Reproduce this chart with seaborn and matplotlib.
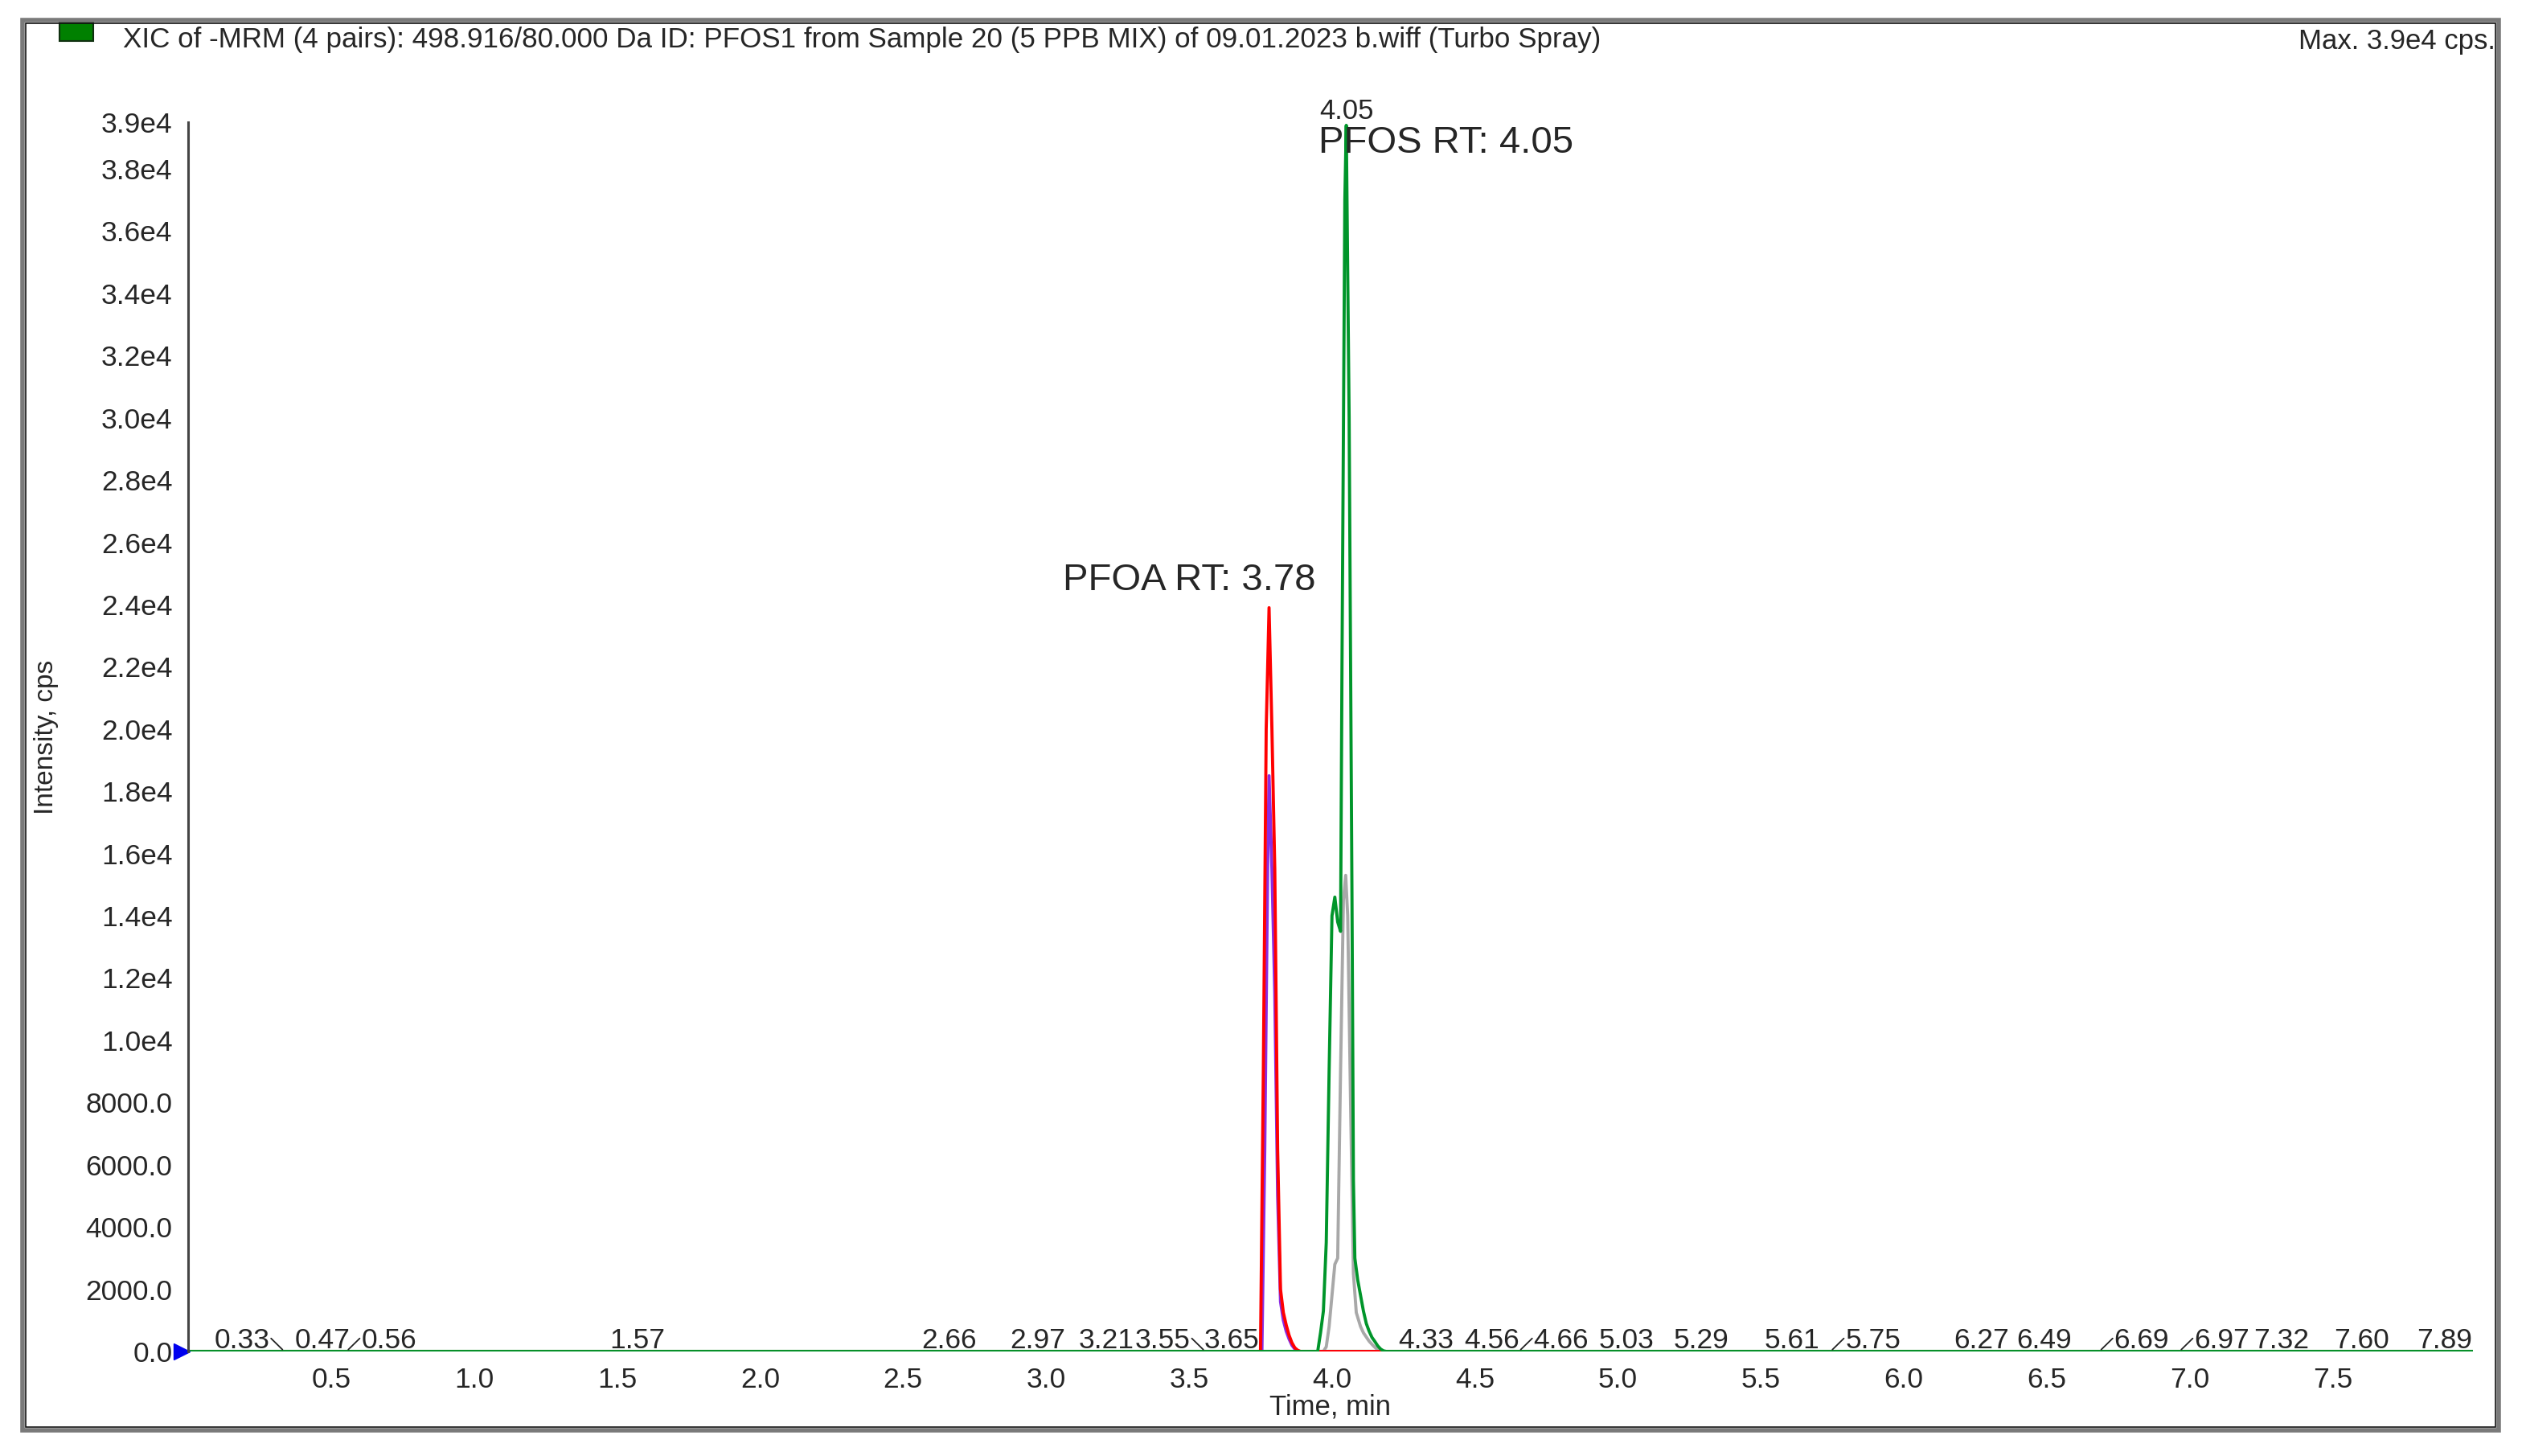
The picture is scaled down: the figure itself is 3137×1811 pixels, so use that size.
import numpy as np
import pandas as pd
import matplotlib
matplotlib.use('Agg')
import matplotlib.pyplot as plt
import matplotlib.transforms as mtransforms
from matplotlib.patches import Rectangle
from matplotlib.ticker import FixedLocator, MultipleLocator
import seaborn as sns

# XIC traces (time in min, intensity in cps)
pfoa_t = [0.0, 3.74, 3.75, 3.76, 3.77, 3.78, 3.79, 3.80, 3.81, 3.82, 3.83, 3.84, 3.85, 3.86, 3.87, 3.88, 3.89, 7.99]
pfoa_i = [0, 0, 0, 9000, 20000, 23900, 20000, 15500, 6500, 2000, 1250, 850, 520, 280, 120, 40, 0, 0]

pfoa2_t = [0.0, 3.755, 3.765, 3.775, 3.78, 3.79, 3.80, 3.81, 3.82, 3.83, 3.84, 3.85, 3.86, 3.87, 3.88, 7.99]
pfoa2_i = [0, 0, 6500, 15500, 18500, 15500, 11500, 5000, 1600, 1000, 650, 400, 200, 80, 0, 0]

pfos_t = [0.0, 3.95, 3.96, 3.97, 3.98, 3.99, 4.00, 4.01, 4.02, 4.03, 4.035, 4.045, 4.05, 4.06, 4.07,
          4.075, 4.08, 4.09, 4.10, 4.11, 4.12, 4.13, 4.14, 4.15, 4.16, 4.17, 4.18, 4.19, 7.99]
pfos_i = [0, 0, 600, 1300, 3500, 9000, 14000, 14600, 13800, 13500, 22000, 37000, 39400, 30000, 14500,
          5500, 3000, 2300, 1800, 1300, 900, 650, 450, 320, 180, 80, 20, 0, 0]

pfos2_t = [0.0, 3.97, 3.98, 3.99, 4.00, 4.01, 4.02, 4.03, 4.04, 4.048, 4.055, 4.065, 4.075, 4.085,
           4.10, 4.11, 4.13, 4.145, 4.16, 4.17, 7.99]
pfos2_i = [0, 0, 150, 800, 1800, 2800, 3000, 9000, 14500, 15300, 14000, 8000, 2500, 1250,
           800, 600, 330, 180, 50, 0, 0]

# labelled peak apex times along the baseline
peak_rts = [0.33, 0.47, 0.56, 1.57, 2.66, 2.97, 3.21, 3.55, 3.65, 4.33, 4.56, 4.66, 5.03,
            5.29, 5.61, 5.75, 6.27, 6.49, 6.69, 6.97, 7.32, 7.60, 7.89]

title = ("XIC of -MRM (4 pairs): 498.916/80.000 Da ID: PFOS1 from Sample 20 (5 PPB MIX) "
         "of 09.01.2023 b.wiff (Turbo Spray)")

frames = []
for name, t, i in [('pfos2', pfos2_t, pfos2_i), ('pfoa2', pfoa2_t, pfoa2_i),
                   ('pfoa', pfoa_t, pfoa_i), ('pfos', pfos_t, pfos_i)]:
    frames.append(pd.DataFrame({'time': t, 'intensity': i, 'trace': name}))
df = pd.concat(frames, ignore_index=True)

palette = {'pfos2': '#a8a8a8', 'pfoa2': '#8a2be2', 'pfoa': '#ff0000', 'pfos': '#00952a'}

sns.set_style('white')
plt.rcParams['font.family'] = ['Liberation Sans', 'DejaVu Sans']

W, H = 3137, 1811
fig = plt.figure(figsize=(W / 100, H / 100), dpi=100)
ax = fig.add_axes([234 / W, 1 - 1681 / H, (3076 - 234) / W, (1681 - 152) / H])

# x axis line in dark green like the baseline
ax.axhline(0, color='#007a00', lw=3, zorder=1)

sns.lineplot(data=df, x='time', y='intensity', hue='trace', units='trace', estimator=None,
             sort=False, palette=palette, hue_order=['pfos2', 'pfoa2', 'pfoa', 'pfos'],
             linewidth=2.8, legend=False, ax=ax)

y_top = 39500
ax.set_xlim(0, 7.99)
ax.set_ylim(0, y_top)

# axes styling
for s in ['top', 'right', 'bottom']:
    ax.spines[s].set_visible(False)
ax.spines['left'].set_color('#444444')
ax.spines['left'].set_linewidth(2.2)

xt = np.arange(0.5, 7.6, 0.5)
ax.set_xticks(xt)
ax.set_xticklabels([f'{v:.1f}' for v in xt])
ax.xaxis.set_minor_locator(MultipleLocator(0.1))

yt = list(np.arange(0, 38001, 2000)) + [y_top]
ylabels = [f'{v:.1f}' if v < 10000 else f'{v / 1e4:.1f}e4' for v in yt[:-1]] + ['3.9e4']
ax.yaxis.set_major_locator(FixedLocator(yt))
ax.set_yticklabels(ylabels)
ax.yaxis.set_minor_locator(MultipleLocator(1000))

ax.tick_params(axis='both', which='major', direction='out', length=9, width=2,
               color='#333333', labelsize=25.5, pad=5)
ax.tick_params(axis='both', which='minor', direction='out', length=5, width=2, color='#333333')
ax.tick_params(axis='x', pad=5)

ax.set_xlabel('Time, min', fontsize=25, labelpad=0)
ax.set_ylabel('Intensity, cps', fontsize=24, labelpad=24)

# peak labels with small leaders when shifted aside
shift = {0.33: 'left', 0.56: 'right', 3.55: 'left', 4.66: 'right',
         5.75: 'right', 6.69: 'right', 6.97: 'right'}
for rt in peak_rts:
    side = shift.get(rt)
    if side == 'left':
        tx, ha = rt - 0.045, 'right'
        ax.plot([rt - 0.04, rt], [420, 60], color='#222222', lw=1.3)
    elif side == 'right':
        tx, ha = rt + 0.045, 'left'
        ax.plot([rt, rt + 0.04], [60, 420], color='#222222', lw=1.3)
    else:
        tx, ha = rt, 'center'
    ax.annotate(f'{rt:.2f}', xy=(tx, 0), xytext=(0, 3), textcoords='offset points',
                ha=ha, va='baseline', fontsize=25.5)

# apex label and compound annotations
ax.annotate('4.05', xy=(4.05, y_top), xytext=(0, 3), textcoords='offset points',
            ha='center', va='baseline', fontsize=25, annotation_clip=False)
ax.text(3.953, 38530, 'PFOS RT: 4.05', fontsize=34, ha='left', va='baseline')
ax.text(3.059, 24460, 'PFOA RT: 3.78', fontsize=34, ha='left', va='baseline')

# blue baseline marker at the origin
tr = mtransforms.offset_copy(ax.transData, fig=fig, x=-6, y=0, units='points')
ax.plot([0], [0], marker='>', color='#0000ee', markersize=15, transform=tr, clip_on=False)

# header
fig.text(153 / W, 1 - 50 / H, title, fontsize=25.2, ha='left', va='center')
fig.text(3104 / W, 1 - 52 / H, 'Max. 3.9e4 cps.', fontsize=25, ha='right', va='center')
fig.add_artist(Rectangle((74 / W, 1 - 51 / H), 42 / W, 23 / H, transform=fig.transFigure,
                         facecolor='#008000', edgecolor='#103010', lw=1.5))

# outer frame
fig.add_artist(Rectangle((28 / W, 1 - 1779 / H), (3108 - 28) / W, (1779 - 25) / H,
                         transform=fig.transFigure, fill=False, edgecolor='#7a7a7a', lw=4))
fig.add_artist(Rectangle((32 / W, 1 - 1775 / H), (3104 - 32) / W, (1775 - 29) / H,
                         transform=fig.transFigure, fill=False, edgecolor='#111111', lw=1.2))

fig.savefig('out.png', dpi=100)
